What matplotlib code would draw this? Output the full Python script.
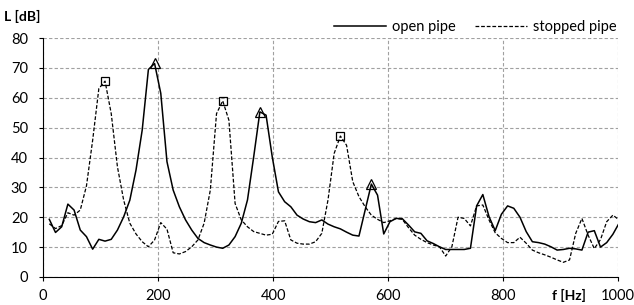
import numpy as np
import matplotlib
matplotlib.use("Agg")
import matplotlib.pyplot as plt

plt.rcParams['font.family'] = ['Lato', 'DejaVu Sans']

# frequency bins (Hz), step 44100/4096
f_step = 10.77
bins = np.arange(1, 94)
freq = bins * f_step

open_pipe = [19.3, 14.9, 16.8, 24.4, 22.4, 15.7, 13.5, 9.3, 12.6, 12.0,
             12.6, 15.7, 20.1, 25.7, 35.8, 49.2, 69.5, 71.5, 61.5, 38.6,
             29.1, 23.5, 19.1, 15.7, 12.9, 11.5, 10.7, 10.0, 9.6, 10.7,
             13.5, 18.0, 25.8, 40.2, 55.3, 54.2, 40.2, 28.5, 25.2, 23.5,
             20.7, 19.4, 18.5, 18.2, 19.1, 17.7, 16.8, 16.1, 15.0, 14.0,
             13.7, 22.4, 31.1, 27.4, 14.4, 18.5, 19.6, 19.5, 17.4, 15.1,
             14.6, 12.1, 11.2, 10.1, 9.2, 9.2, 9.2, 9.2, 9.6, 23.8,
             27.6, 20.2, 15.5, 21.0, 23.8, 23.0, 20.0, 15.2, 11.8, 11.5,
             11.0, 10.1, 9.0, 9.2, 9.6, 9.4, 9.0, 15.0, 15.5, 10.0,
             11.5, 14.3, 18.0]

stopped_pipe = [17.8, 16.2, 17.2, 21.5, 20.7, 22.4, 30.5, 45.8, 63.1, 65.6,
                54.7, 36.9, 25.8, 18.0, 14.4, 11.8, 10.1, 12.4, 18.2, 16.0,
                8.1, 7.7, 8.5, 10.1, 12.4, 18.0, 29.1, 54.7, 59.0, 52.5,
                24.6, 19.1, 16.8, 15.2, 14.6, 14.0, 14.3, 18.6, 18.8, 12.4,
                11.3, 11.0, 11.0, 11.8, 14.6, 25.8, 41.4, 47.2, 44.1, 31.9,
                26.9, 23.5, 20.7, 19.3, 18.2, 18.8, 19.6, 19.3, 16.5, 14.0,
                12.6, 11.5, 10.7, 10.1, 7.0, 10.1, 20.0, 19.6, 17.1, 23.8,
                24.1, 19.1, 14.8, 12.9, 11.5, 11.5, 13.3, 11.3, 9.0, 8.1,
                7.4, 6.6, 5.7, 4.9, 5.7, 14.6, 19.6, 14.0, 9.5, 12.5,
                18.5, 20.7, 19.1]

open_peaks = [18, 35, 53]       # bin numbers marked with triangles
stopped_peaks = [10, 29, 48]    # bin numbers marked with squares

open_pipe = np.array(open_pipe)
stopped_pipe = np.array(stopped_pipe)

fig = plt.figure(figsize=(6.34, 3.05), dpi=100)
ax = fig.add_axes([0.068, 0.092, 0.907, 0.783])

ax.plot(freq, open_pipe, color='black', lw=1.1, label='open pipe')
ax.plot(freq, stopped_pipe, color='black', lw=0.9, ls=(0, (3, 1.5)), label='stopped pipe')

oi = np.array(open_peaks) - 1
si = np.array(stopped_peaks) - 1
ax.plot(freq[oi], open_pipe[oi], ls='none', marker='^', ms=6.5, mfc='none', mec='black', mew=0.9)
ax.plot(freq[si], stopped_pipe[si], ls='none', marker='s', ms=5.5, mfc='none', mec='black', mew=0.9)

ax.set_xlim(0, 1000)
ax.set_ylim(0, 80)
ax.set_xticks(range(0, 1001, 200))
ax.set_yticks(range(0, 81, 10))
ax.grid(True, color='#a0a0a0', linestyle=(0, (3, 2)), linewidth=0.8)
ax.set_axisbelow(True)
for s in ['top', 'right']:
    ax.spines[s].set_visible(False)
ax.tick_params(direction='out', length=3, labelsize=10.5, colors='black')
ax.tick_params(axis='y', pad=8)
ax.tick_params(axis='x', pad=6)

fig.text(22 / 634, 1 - 16 / 305, 'L [dB]', fontsize=10, fontweight='bold', ha='center', va='center')
fig.text(569 / 634, 1 - 295 / 305, 'f [Hz]', fontsize=10, fontweight='bold', ha='center', va='center')

ax.legend(loc='lower right', bbox_to_anchor=(1.005, 1.0), ncol=2, frameon=False,
          fontsize=10.5, handlelength=3.6, columnspacing=1.3, handletextpad=0.4,
          borderaxespad=0.0, borderpad=0.3)

fig.savefig('out.png', dpi=100)
